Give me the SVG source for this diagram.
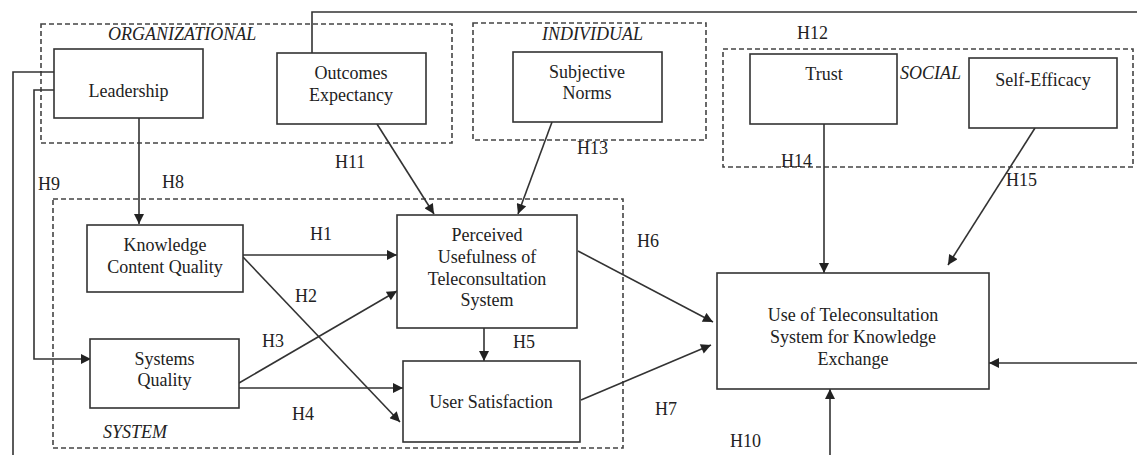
<svg xmlns="http://www.w3.org/2000/svg" width="1137" height="455" viewBox="0 0 1137 455">
<style>
.box{fill:#fff;stroke:#333;stroke-width:1.6}
.grp{fill:none;stroke:#444;stroke-width:1.6;stroke-dasharray:5,3}
text{font-family:'Liberation Serif','Times New Roman','DejaVu Serif',serif;font-size:18px;fill:#222}
.t{text-anchor:middle}
.gl{font-style:italic}
.c{fill:none;stroke:#333;stroke-width:1.6}
</style>
<defs>
<marker id="ah" viewBox="0 0 10 10" refX="10" refY="5" markerWidth="12" markerHeight="10" orient="auto" markerUnits="userSpaceOnUse">
<path d="M0,0 L10,5 L0,10 z" fill="#222"/>
</marker>
</defs>
<rect width="1137" height="455" fill="#fff"/>

<g id="groups">
<g id="group-organizational">
<rect class="grp" x="41" y="24" width="411" height="119"/>
<text class="gl" x="108" y="40">ORGANIZATIONAL</text>
</g>
<g id="group-individual">
<rect class="grp" x="473" y="23" width="233" height="117"/>
<text class="gl" x="542" y="40">INDIVIDUAL</text>
</g>
<g id="group-social">
<rect class="grp" x="723" y="49" width="410" height="118"/>
<text class="gl" x="900" y="79">SOCIAL</text>
</g>
<g id="group-system">
<rect class="grp" x="53" y="199" width="570" height="249"/>
<text class="gl" x="103" y="438">SYSTEM</text>
</g>
</g>

<g id="connectors">
<path class="c" d="M139,118 V224" marker-end="url(#ah)"/>
<path class="c" d="M54,72 H13 V455"/>
<path class="c" d="M54,90 H34 V359 H91" marker-end="url(#ah)"/>
<path class="c" d="M312,54 V12 H1137" stroke="#555" stroke-width="2"/>
<path class="c" d="M1137,363 H989" marker-end="url(#ah)"/>
<path class="c" d="M377,124 L434,214" marker-end="url(#ah)"/>
<path class="c" d="M552,122 L518,214" marker-end="url(#ah)"/>
<path class="c" d="M243,255 H397" marker-end="url(#ah)"/>
<path class="c" d="M243,257 L400,422" marker-end="url(#ah)"/>
<path class="c" d="M239,383 L397,291" marker-end="url(#ah)"/>
<path class="c" d="M239,388 H403" marker-end="url(#ah)"/>
<path class="c" d="M484,328 V361" marker-end="url(#ah)"/>
<path class="c" d="M578,251 L713,322" marker-end="url(#ah)"/>
<path class="c" d="M581,400 L711,345" marker-end="url(#ah)"/>
<path class="c" d="M824,124 V273" marker-end="url(#ah)"/>
<path class="c" d="M1035,128 L948,265" marker-end="url(#ah)"/>
<path class="c" d="M830,455 V389" marker-end="url(#ah)"/>
</g>

<g id="labels">
<text x="38" y="190">H9</text>
<text x="162" y="188">H8</text>
<text x="335" y="168">H11</text>
<text x="577" y="154">H13</text>
<text x="797" y="39">H12</text>
<text x="781" y="167">H14</text>
<text x="1006" y="186">H15</text>
<text x="310" y="240">H1</text>
<text x="295" y="302">H2</text>
<text x="262" y="347">H3</text>
<text x="292" y="420">H4</text>
<text x="513" y="348">H5</text>
<text x="637" y="247">H6</text>
<text x="655" y="415">H7</text>
<text x="730" y="447">H10</text>
</g>

<g id="node-leadership">
<rect class="box" x="54" y="49" width="149" height="69"/>
<text class="t" x="128.5" y="97">Leadership</text>
</g>
<g id="node-outcomes">
<rect class="box" x="277" y="53" width="149" height="71"/>
<text class="t" x="351" y="79">Outcomes</text>
<text class="t" x="351" y="101">Expectancy</text>
</g>
<g id="node-subjective">
<rect class="box" x="513" y="52" width="149" height="70"/>
<text class="t" x="587" y="78">Subjective</text>
<text class="t" x="587" y="99">Norms</text>
</g>
<g id="node-trust">
<rect class="box" x="750" y="54" width="147" height="70"/>
<text class="t" x="824" y="80">Trust</text>
</g>
<g id="node-selfefficacy">
<rect class="box" x="969" y="58" width="148" height="70"/>
<text class="t" x="1043" y="86">Self-Efficacy</text>
</g>
<g id="node-kcq">
<rect class="box" x="87" y="225" width="156" height="67"/>
<text class="t" x="165" y="251">Knowledge</text>
<text class="t" x="165" y="273">Content Quality</text>
</g>
<g id="node-sq">
<rect class="box" x="90" y="339" width="149" height="69"/>
<text class="t" x="164.5" y="365">Systems</text>
<text class="t" x="164.5" y="386">Quality</text>
</g>
<g id="node-perceived">
<rect class="box" x="397" y="215" width="180" height="113"/>
<text class="t" x="487" y="241">Perceived</text>
<text class="t" x="487" y="263">Usefulness of</text>
<text class="t" x="487" y="285">Teleconsultation</text>
<text class="t" x="487" y="306">System</text>
</g>
<g id="node-satisfaction">
<rect class="box" x="403" y="361" width="177" height="81"/>
<text class="t" x="491" y="408">User Satisfaction</text>
</g>
<g id="node-use">
<rect class="box" x="717" y="273" width="272" height="116"/>
<text class="t" x="853" y="321">Use of Teleconsultation</text>
<text class="t" x="853" y="343">System for Knowledge</text>
<text class="t" x="853" y="365">Exchange</text>
</g>
</svg>
